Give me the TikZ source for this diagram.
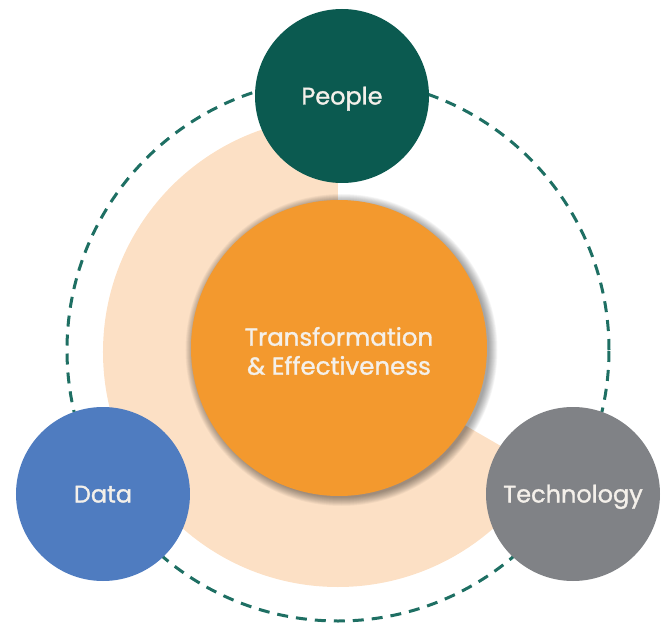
\documentclass[tikz,border=0pt]{standalone}
\usepackage{fontspec}
\setmainfont{Poppins}
\newfontfamily\labelfont{Poppins}[FakeBold=1.3]
\definecolor{peach}{HTML}{FCE0C5}
\definecolor{coreorange}{HTML}{F3992E}
\definecolor{peopleteal}{HTML}{0B5A50}
\definecolor{datablue}{HTML}{4F7CC0}
\definecolor{techgray}{HTML}{808286}
\definecolor{ringteal}{HTML}{1E6F63}
\definecolor{labelwhite}{HTML}{F4F0EA}
\tikzset{
  x=1pt, y=1pt,
  sat/.style={circle, minimum size=174pt, inner sep=0pt, text=labelwhite,
    font=\labelfont\fontsize{24}{28}\selectfont, text height=17pt, text depth=0pt},
  corebox/.style={circle, minimum size=296pt, inner sep=0pt, fill=coreorange},
  coretext/.style={text=labelwhite, align=center, inner sep=0pt,
    font=\labelfont\fontsize{24.5}{29}\selectfont},
  ringstyle/.style={circle, minimum size=542pt, inner sep=0pt, draw=ringteal,
    line width=3pt, dash pattern=on 11pt off 8pt},
}
\begin{document}
\begin{tikzpicture}
\useasboundingbox (-338,-273) rectangle (326,351);
% dashed ring
\node[ringstyle] (ring) at (0,1) {};
% peach sector
\coordinate (pc) at (0,-1);
\fill[peach] (pc) -- ++(90:235) arc[start angle=90, end angle=330, radius=235] -- cycle;
% soft shadow of the core
\foreach \i in {1,...,12}
  \fill[black, opacity=0.035] (3.5,1) circle ({147+\i*0.75});
% core
\node[corebox] (core) at (1,3) {};
\node[coretext] (coretext) at ([yshift=-3pt]core.center) {Transformation\\\& Effectiveness};
% satellites
\node[sat, fill=peopleteal] (people) at (4,255) {People};
\node[sat, fill=datablue] (data) at (-235,-143) {Data};
\node[sat, fill=techgray] (tech) at (235,-143) {Technology};
\end{tikzpicture}
\end{document}
